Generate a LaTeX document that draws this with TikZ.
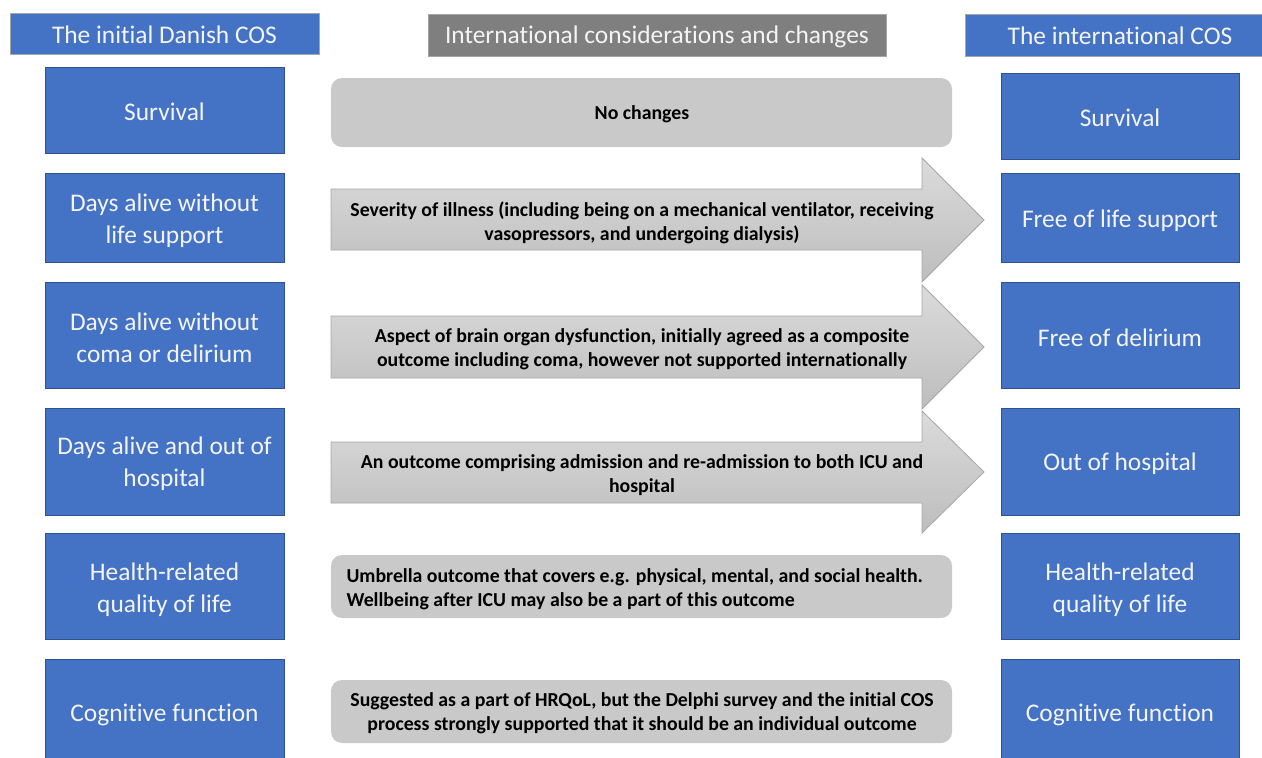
\documentclass[tikz,border=0pt]{standalone}
\usepackage{fontspec}
\setmainfont{Carlito}[Ligatures={NoCommon}]
\definecolor{cosblue}{HTML}{4472C4}
\definecolor{cosblueedge}{HTML}{2F528F}
\definecolor{hdredge}{HTML}{A5A5A5}
\definecolor{midhdr}{HTML}{7F7F7F}
\definecolor{gbox}{HTML}{C9C9C9}
\definecolor{arrtop}{HTML}{DBDBDB}
\definecolor{arrbot}{HTML}{BDBDBD}
\definecolor{arredge}{HTML}{A6A6A6}
\definecolor{lighttext}{HTML}{F4F4F4}
\begin{document}
\begin{tikzpicture}[x=1pt,y=-1pt,
  hdrbox/.style={draw=hdredge, line width=1pt, fill=cosblue},
  hdrtext/.style={text=lighttext, font=\fontsize{25.4}{30}\selectfont, yshift=-1pt},
  bluebox/.style={draw=cosblueedge, line width=0.8pt, fill=cosblue},
  bluetext/.style={text=lighttext, align=center, font=\fontsize{25.4}{32}\selectfont, yshift=-2pt},
  greybox/.style={fill=gbox, rounded corners=11pt},
  greytext/.style={font=\fontsize{19.8}{24}\selectfont\bfseries, text=black, align=center, yshift=-2.5pt},
  arrowshape/.style={top color=arrtop, bottom color=arrbot, draw=arredge, line width=0.8pt}
]
\useasboundingbox (0,0) rectangle (1262,758);
\begin{scope}
\clip (0,0) rectangle (1262,758);
% headers
\draw[hdrbox] (10,13) rectangle (319,54);
\node[hdrtext] (hL) at (164.5,34) {The initial Danish COS};
\draw[draw=hdredge, line width=1pt, fill=midhdr] (428,14) rectangle (886,56);
\node[hdrtext] (hM) at (657,36) {International considerations and changes};
\draw[hdrbox] (965,14) rectangle (1270,56);
\node[hdrtext] (hR) at (1120,35) {The international COS};

% left boxes
\draw[bluebox] (45,67) rectangle (284,153);
\node[bluetext] (l1) at (164.5,110) {Survival};
\draw[bluebox] (45,173) rectangle (284,262);
\node[bluetext] (l2) at (164.5,219) {Days alive without\\life support};
\draw[bluebox] (45,282) rectangle (284,388);
\node[bluetext] (l3) at (164.5,336) {Days alive without\\coma or delirium};
\draw[bluebox] (45,408) rectangle (284,515);
\node[bluetext] (l4) at (164.5,462) {Days alive and out of\\hospital};
\draw[bluebox] (45,533) rectangle (284,639);
\node[bluetext] (l5) at (164.5,588) {Health-related\\quality of life};
\draw[bluebox] (45,659) rectangle (284,770);
\node[bluetext] (l6) at (164.5,713) {Cognitive function};

% right boxes
\draw[bluebox] (1001,73) rectangle (1239,159);
\node[bluetext] (r1) at (1120,116) {Survival};
\draw[bluebox] (1001,173) rectangle (1239,262);
\node[bluetext] (r2) at (1120,219) {Free of life support};
\draw[bluebox] (1001,282) rectangle (1239,388);
\node[bluetext] (r3) at (1120,336) {Free of delirium};
\draw[bluebox] (1001,408) rectangle (1239,515);
\node[bluetext] (r4) at (1120,462) {Out of hospital};
\draw[bluebox] (1001,533) rectangle (1239,639);
\node[bluetext] (r5) at (1120,588) {Health-related\\quality of life};
\draw[bluebox] (1001,659) rectangle (1239,770);
\node[bluetext] (r6) at (1120,713) {Cognitive function};

% middle
\fill[greybox] (331,78) rectangle (952,147);
\node[greytext] (m1) at (642,112) {No changes};

\draw[arrowshape] (331,189) -- (922,189) -- (922,158) -- (984,220) -- (922,282) -- (922,250) -- (331,250) -- cycle;
\node[greytext] (m2) at (642,220) {Severity of illness (including being on a mechanical ventilator, receiving\\vasopressors, and undergoing dialysis)};

\draw[arrowshape] (331,316) -- (922,316) -- (922,285) -- (984,347) -- (922,409) -- (922,378) -- (331,378) -- cycle;
\node[greytext] (m3) at (642,347) {Aspect of brain organ dysfunction, initially agreed as a composite\\outcome including coma, however not supported internationally};

\draw[arrowshape] (331,442) -- (922,442) -- (922,411) -- (984,472) -- (922,533) -- (922,503) -- (331,503) -- cycle;
\node[greytext] (m4) at (642,473) {An outcome comprising admission and re-admission to both ICU and\\hospital};

\fill[greybox] (331,555) rectangle (952,618);
\node[greytext, align=left, anchor=west] (m5) at (343,587) {Umbrella outcome that covers e.g. physical, mental, and social health.\\Wellbeing after ICU may also be a part of this outcome};

\fill[greybox] (331,680) rectangle (952,743);
\node[greytext] (m6) at (642,711) {Suggested as a part of HRQoL, but the Delphi survey and the initial COS\\process strongly supported that it should be an individual outcome};
\end{scope}
\end{tikzpicture}
\end{document}
